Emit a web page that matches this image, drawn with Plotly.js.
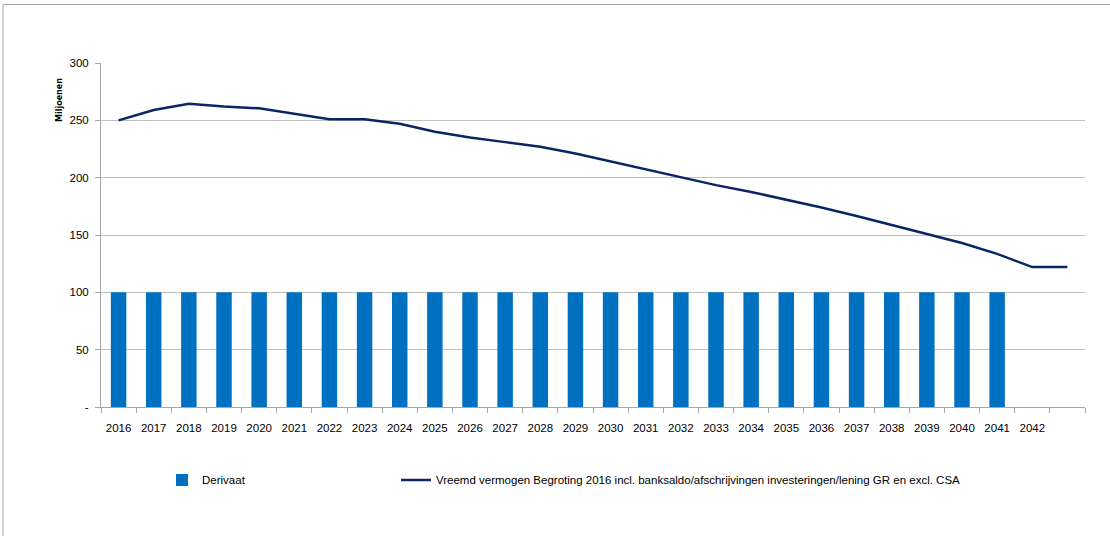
<!DOCTYPE html>
<html>
<head>
<meta charset="utf-8">
<script src="https://cdn.plot.ly/plotly-3.0.1.min.js"></script>
<style>html,body{margin:0;padding:0;background:#fff;}#chart{width:1110px;height:536px;}</style>
</head>
<body>
<div id="chart"></div>
<script>
const years = ["2016","2017","2018","2019","2020","2021","2022","2023","2024","2025","2026","2027","2028","2029","2030","2031","2032","2033","2034","2035","2036","2037","2038","2039","2040","2041","2042","2043"];
const tickLabels = ["2016","2017","2018","2019","2020","2021","2022","2023","2024","2025","2026","2027","2028","2029","2030","2031","2032","2033","2034","2035","2036","2037","2038","2039","2040","2041","2042",""];
const derivaat = [100,100,100,100,100,100,100,100,100,100,100,100,100,100,100,100,100,100,100,100,100,100,100,100,100,100,null,null];
const vreemdVermogen = [250,259,264.5,262,260.5,256,251,251,247,240,235,231,227,221,214,207,200,193.5,187.5,181,174,166.5,158.5,151,143,133.5,122,122];
const yTicks = [0,50,100,150,200,250,300];
const yTickText = ["-","50","100","150","200","250","300"];

const fontFam = "'Liberation Sans', Arial, sans-serif";

const traces = [
  {
    type: "bar", name: "Derivaat", x: years, y: derivaat,
    marker: {color: "#0070C0"}, legend: "legend"
  },
  {
    type: "scatter", mode: "lines",
    name: "Vreemd vermogen Begroting 2016 incl. banksaldo/afschrijvingen investeringen/lening GR en excl. CSA",
    x: years, y: vreemdVermogen,
    line: {color: "#0B2465", width: 2.5}, legend: "legend2"
  }
];

const legendCommon = {
  orientation: "h", xanchor: "left", yanchor: "top",
  font: {family: fontFam, size: 11.5, color: "#000"},
  itemwidth: 30, bgcolor: "rgba(0,0,0,0)"
};

const layout = {
  width: 1110, height: 536,
  margin: {l: 101, r: 25, t: 63, b: 129},
  paper_bgcolor: "#fff", plot_bgcolor: "#fff",
  bargap: 0.56,
  showlegend: true,
  font: {family: fontFam, size: 11.5, color: "#000"},
  xaxis: {
    type: "category", tickvals: years, ticktext: tickLabels, tickangle: 0,
    showgrid: false, showline: true, linecolor: "#a6a6a6", linewidth: 1,
    ticks: "outside", tickson: "boundaries", ticklen: 5, tickcolor: "#a6a6a6",
    ticklabelstandoff: 10,
    tickfont: {family: fontFam, size: 11.5, color: "#000"},
    range: [-0.5, 27.5], fixedrange: true
  },
  yaxis: {
    range: [0, 300], tickvals: yTicks, ticktext: yTickText,
    showgrid: true, gridcolor: "#c0c0c0", gridwidth: 1,
    showline: true, linecolor: "#a6a6a6", linewidth: 1,
    ticks: "outside", ticklen: 5, tickcolor: "#a6a6a6",
    ticklabelstandoff: 4,
    tickfont: {family: fontFam, size: 11.5, color: "#000"},
    zeroline: false, fixedrange: true
  },
  legend: Object.assign({}, legendCommon, {x: (162 - 101) / 984, y: -0.17}),
  legend2: Object.assign({}, legendCommon, {x: (396 - 101) / 984, y: -0.17}),
  annotations: [
    {
      text: "<b>Miljoenen</b>", xref: "paper", yref: "paper",
      x: (60 - 101) / 984, y: (407 - 100) / 344,
      xanchor: "center", yanchor: "middle", textangle: -90,
      showarrow: false, font: {family: "'DejaVu Sans', sans-serif", size: 8, color: "#000"}
    }
  ],
  shapes: [
    {
      type: "rect", xref: "paper", yref: "paper",
      x0: (3 - 101) / 984, x1: 1.2, y0: -0.5, y1: (407 - 4.5) / 344,
      line: {color: "#a6a6a6", width: 1}, fillcolor: "rgba(0,0,0,0)", layer: "below"
    }
  ]
};

Plotly.newPlot("chart", traces, layout, {displayModeBar: false, staticPlot: true});
</script>
</body>
</html>
